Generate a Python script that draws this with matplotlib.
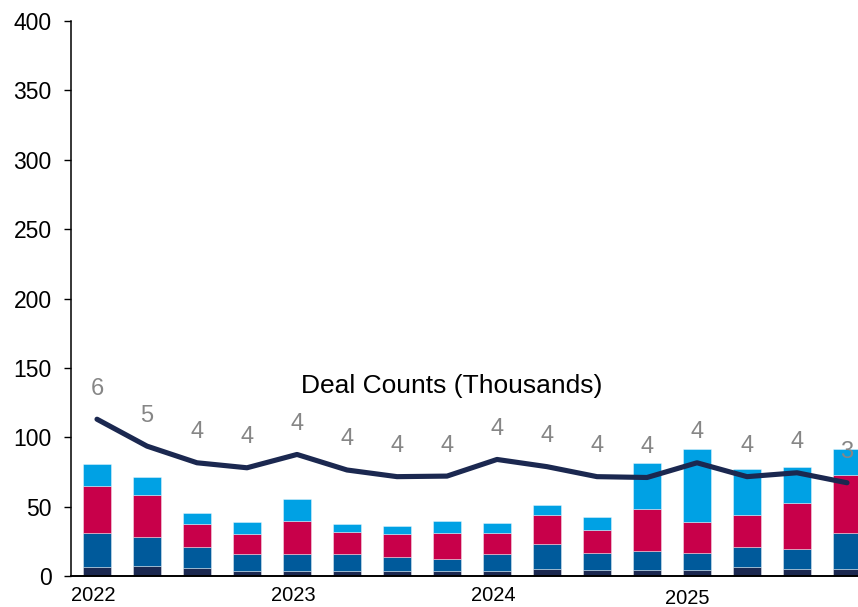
import matplotlib
matplotlib.use("Agg")
import matplotlib.pyplot as plt
import numpy as np

plt.rcParams["font.family"] = ["Liberation Sans", "DejaVu Sans"]

# Quarterly periods, 2022 Q1 .. 2025 Q4
quarters = ["2022Q1", "2022Q2", "2022Q3", "2022Q4",
            "2023Q1", "2023Q2", "2023Q3", "2023Q4",
            "2024Q1", "2024Q2", "2024Q3", "2024Q4",
            "2025Q1", "2025Q2", "2025Q3", "2025Q4"]

# Stacked bar segments (bottom to top)
tier_small = [6.7, 7.4, 5.5, 3.8, 3.8, 3.8, 3.8, 3.6,
              3.8, 4.8, 4.1, 4.6, 4.1, 6.2, 5.0, 5.0]
tier_mid = [24.0, 20.5, 15.2, 11.8, 11.8, 11.8, 9.6, 8.9,
            12.1, 18.3, 12.2, 13.2, 12.2, 14.9, 14.2, 25.7]
tier_large = [34.2, 30.5, 16.5, 14.7, 24.3, 15.9, 16.6, 18.7,
              15.3, 20.6, 17.1, 30.2, 22.9, 23.1, 33.2, 41.9]
tier_mega = [15.6, 13.0, 8.0, 8.6, 15.6, 5.7, 6.3, 8.4,
             6.7, 7.7, 9.4, 33.2, 52.6, 32.9, 26.4, 18.9]

# Deal counts in thousands, drawn on the same axis scaled by 20
deal_counts_k = [5.65, 4.68, 4.08, 3.90, 4.38, 3.82, 3.58, 3.60,
                 4.20, 3.94, 3.58, 3.55, 4.08, 3.58, 3.72, 3.36]
count_scale = 20

year_labels = ["2022", "2023", "2024", "2025"]
year_positions = [0, 4, 8, 12]

c_navy = "#1b2850"
c_blue = "#005a9b"
c_red = "#c8004a"
c_sky = "#00a1e4"
c_label = "#868686"

fig = plt.figure(figsize=(8.58, 6.07), dpi=100)
ax = fig.add_axes([71 / 858, 31 / 607, 1 - 71 / 858, (576 - 21) / 607])

x = np.arange(len(quarters))
w = 0.56
segments = [tier_small, tier_mid, tier_large, tier_mega]
colors = [c_navy, c_blue, c_red, c_sky]
bottom = np.zeros(len(quarters))
for vals, col in zip(segments, colors):
    vals = np.asarray(vals)
    ax.bar(x, vals, w, bottom=bottom, color=col, edgecolor=(1, 1, 1, 0.45),
           linewidth=0.6, zorder=2)
    bottom += vals

line_vals = np.asarray(deal_counts_k) * count_scale
ax.plot(x, line_vals, color=c_navy, lw=3.7, solid_joinstyle="round",
        solid_capstyle="round", zorder=3)
for xi, yi, v in zip(x, line_vals, deal_counts_k):
    ax.annotate(f"{v:.0f}", (xi, yi), xytext=(0, 22), textcoords="offset points",
                ha="center", va="center", fontsize=17, color=c_label, zorder=4)

ax.text(7.1, 137, "Deal Counts (Thousands)", ha="center", va="center",
        fontsize=19, color="black")

ax.set_xlim(-0.52, 15.22)
ax.set_ylim(0, 400)
ax.set_yticks(np.arange(0, 401, 50))
ax.tick_params(axis="y", direction="out", length=5, width=1, pad=9,
               labelsize=16.5, colors="black")
ax.set_xticks([])
for s in ["top", "right"]:
    ax.spines[s].set_visible(False)
ax.spines["left"].set_linewidth(1.1)
ax.spines["bottom"].set_linewidth(1.4)

# Year labels under the first quarter of each year
year_offsets = [-0.08, -0.08, -0.08, -0.19]
year_drop = [0, 0, 0, 2]
for pos, lab, off, drop in zip(year_positions, year_labels, year_offsets, year_drop):
    ax.annotate(lab, (pos + off, 0), xytext=(0, -14 - drop),
                textcoords="offset points", ha="center", va="center",
                fontsize=14.5, color="black", annotation_clip=False)

fig.savefig("out.png", dpi=100)
